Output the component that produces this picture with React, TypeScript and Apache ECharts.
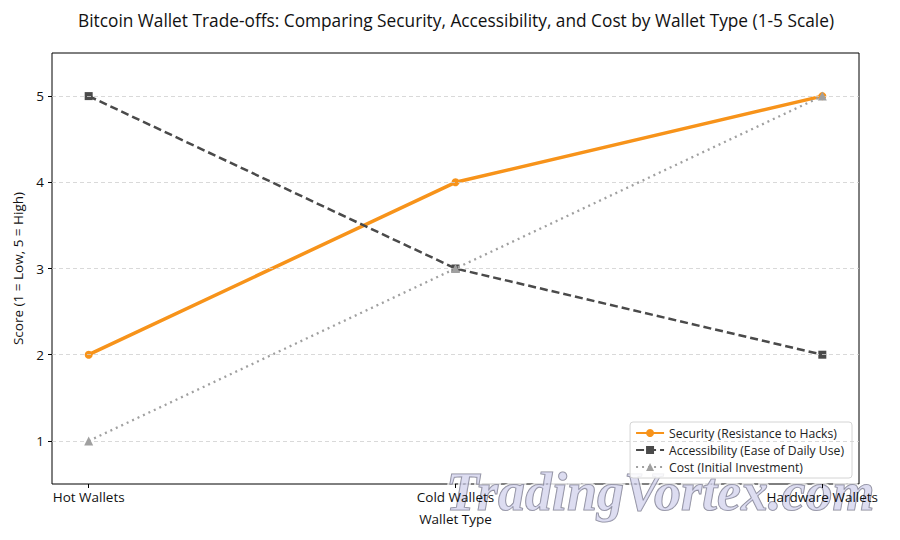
import React, { useEffect, useRef } from "react";
import * as echarts from "echarts";

const categories = ["Hot Wallets", "Cold Wallets", "Hardware Wallets"];
const security = [2, 4, 5];
const accessibility = [5, 3, 2];
const cost = [1, 3, 5];
const yTicks = [1, 2, 3, 4, 5];
const xTicks = [0, 1, 2];

const FONT = "'Open Sans', 'Noto Sans', sans-serif";

const toPoints = (vals: number[]) => vals.map((v, i) => [i, v]);

export default function App() {
  const ref = useRef<HTMLDivElement>(null);

  useEffect(() => {
    if (!ref.current) return;
    document.body.style.margin = "0";
    const chart = echarts.init(ref.current, undefined, { renderer: "svg" });

    chart.setOption({
      animation: false,
      backgroundColor: "#ffffff",
      textStyle: { fontFamily: FONT },
      grid: {
        left: 52,
        right: 41,
        top: 53,
        bottom: 56,
        show: true,
        borderColor: "#000",
        borderWidth: 1,
        backgroundColor: "transparent",
      },
      xAxis: {
        type: "value",
        min: -0.1,
        max: 2.1,
        z: 10,
        name: "Wallet Type",
        nameLocation: "middle",
        nameGap: 28,
        nameTextStyle: { fontSize: 13.5, color: "#111", fontFamily: FONT },
        axisLine: { show: false, onZero: false },
        axisTick: { show: true, length: 4, customValues: xTicks, lineStyle: { color: "#000" } },
        axisLabel: {
          customValues: xTicks,
          formatter: (v: number) => categories[Math.round(v)] ?? "",
          fontSize: 13.5,
          color: "#111",
          margin: 6,
          fontFamily: FONT,
        },
        splitLine: { show: false },
      },
      yAxis: {
        type: "value",
        min: 0.5,
        max: 5.5,
        z: 10,
        name: "Score (1 = Low, 5 = High)",
        nameLocation: "middle",
        nameGap: 25,
        nameTextStyle: { fontSize: 13.5, color: "#111", fontFamily: FONT },
        axisLine: { show: false, onZero: false },
        axisTick: { show: true, length: 4, customValues: yTicks, lineStyle: { color: "#000" } },
        axisLabel: {
          customValues: yTicks,
          fontSize: 13.5,
          color: "#111",
          margin: 8,
          fontFamily: FONT,
        },
        splitLine: { show: false },
      },
      legend: {
        orient: "vertical",
        right: 48,
        bottom: 62,
        itemWidth: 28,
        itemHeight: 10,
        itemGap: 5,
        padding: [5, 8, 5, 5],
        borderColor: "#d4d4d4",
        borderWidth: 1,
        borderRadius: 3,
        backgroundColor: "rgba(255,255,255,0.85)",
        textStyle: { fontSize: 12.2, color: "#222", fontFamily: FONT },
        data: [
          "Security (Resistance to Hacks)",
          "Accessibility (Ease of Daily Use)",
          "Cost (Initial Investment)",
        ],
      },
      series: [
        {
          name: "grid-lines",
          type: "line",
          data: [],
          z: 1,
          silent: true,
          markLine: {
            silent: true,
            symbol: "none",
            label: { show: false },
            lineStyle: { color: "#cfcfcf", type: [4, 3], width: 0.8 },
            data: yTicks.map((v) => ({ yAxis: v })),
          },
        },
        {
          name: "Security (Resistance to Hacks)",
          type: "line",
          data: toPoints(security),
          z: 3,
          color: "#F7931A",
          lineStyle: { width: 3.5, color: "#F7931A" },
          symbol: "circle",
          symbolSize: 8,
          itemStyle: { color: "#F7931A" },
        },
        {
          name: "Accessibility (Ease of Daily Use)",
          type: "line",
          data: toPoints(accessibility),
          z: 4,
          color: "#4a4a4a",
          lineStyle: { width: 2.5, color: "#4a4a4a", type: [8, 4] },
          symbol: "rect",
          symbolSize: 8,
          itemStyle: { color: "#4a4a4a" },
        },
        {
          name: "Cost (Initial Investment)",
          type: "line",
          data: toPoints(cost),
          z: 5,
          color: "#a0a0a0",
          lineStyle: { width: 2.3, color: "#a0a0a0", type: [2, 4] },
          symbol: "triangle",
          symbolSize: 9,
          itemStyle: { color: "#a0a0a0" },
        },
      ],
      graphic: [
        {
          type: "text",
          x: 456,
          y: 20,
          style: {
            text: "Bitcoin Wallet Trade-offs: Comparing Security, Accessibility, and Cost by Wallet Type (1-5 Scale)",
            font: `17.3px ${FONT}`,
            fill: "#111",
            align: "center",
            verticalAlign: "middle",
          },
        },
        {
          type: "text",
          x: 446,
          y: 492,
          z: 1,
          silent: true,
          style: {
            text: "TradingVortex.com",
            font: "italic bold 54px 'Liberation Serif', serif",
            fill: "rgba(205,205,232,0.35)",
            stroke: "rgba(255,255,255,0.75)",
            lineWidth: 5,
            align: "left",
            verticalAlign: "middle",
          },
        },
        {
          type: "text",
          x: 446,
          y: 492,
          z: 2,
          silent: true,
          style: {
            text: "TradingVortex.com",
            font: "italic bold 54px 'Liberation Serif', serif",
            fill: "rgba(200,200,232,0.45)",
            stroke: "rgba(120,120,135,0.85)",
            lineWidth: 1.1,
            align: "left",
            verticalAlign: "middle",
          },
        },
      ],
    });

    return () => chart.dispose();
  }, []);

  return <div ref={ref} style={{ width: 900, height: 540 }} />;
}
